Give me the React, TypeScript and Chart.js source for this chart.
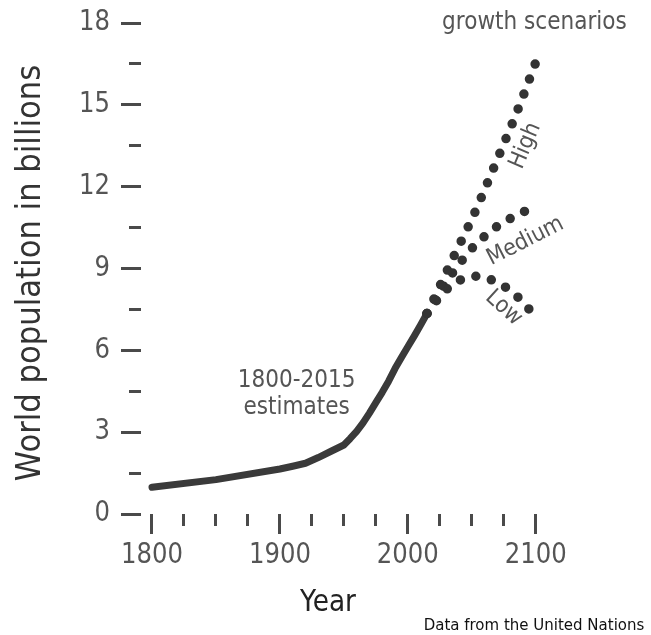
import React, { useEffect, useRef } from "react";
import { Chart, registerables } from "chart.js";

Chart.register(...registerables);

// ---- data ----
const estimateYears = [1800, 1850, 1900, 1910, 1920, 1930, 1940, 1950, 1955, 1960, 1965, 1970, 1975, 1980, 1985, 1990, 1995, 2000, 2005, 2010, 2015];
const estimateValues = [0.98, 1.26, 1.65, 1.75, 1.86, 2.07, 2.3, 2.53, 2.77, 3.03, 3.34, 3.7, 4.08, 4.46, 4.87, 5.33, 5.74, 6.13, 6.52, 6.93, 7.35];

const projectionYears = [2015, 2020, 2025, 2030, 2035, 2040, 2045, 2050, 2055, 2060, 2065, 2070, 2075, 2080, 2085, 2090, 2095, 2100];
const highValues = [7.35, 7.84, 8.35, 8.85, 9.35, 9.83, 10.32, 10.8, 11.33, 11.88, 12.45, 13.0, 13.57, 14.12, 14.7, 15.3, 15.93, 16.55];
const mediumValues = [7.35, 7.76, 8.14, 8.5, 8.84, 9.16, 9.45, 9.73, 9.97, 10.18, 10.38, 10.55, 10.7, 10.83, 10.96, 11.07, 11.16, 11.21];
const lowValues = [7.35, 7.68, 7.97, 8.22, 8.42, 8.56, 8.66, 8.71, 8.72, 8.67, 8.59, 8.48, 8.36, 8.2, 8.0, 7.76, 7.5, 7.25];

const xTickValues = [1800, 1825, 1850, 1875, 1900, 1925, 1950, 1975, 2000, 2025, 2050, 2075, 2100];
const xLabelValues = [1800, 1900, 2000, 2100];
const yTickValues = [0, 1.5, 3, 4.5, 6, 7.5, 9, 10.5, 12, 13.5, 15, 16.5, 18];
const yLabelValues = [0, 3, 6, 9, 12, 15, 18];

const yAxisTitle = "World population in billions";
const xAxisTitle = "Year";
const sourceNote = "Data from the United Nations";

// annotation layout (anchored in data coordinates)
const notes = [
  { text: "growth scenarios", year: 2099, value: 18.0, angle: 0, size: 24 },
  { text: "High", year: 2092, value: 13.5, angle: -67, size: 23 },
  { text: "Medium", year: 2092, value: 10.0, angle: -27, size: 23 },
  { text: "Low", year: 2075, value: 7.55, angle: 42, size: 23 },
  { text: "1800-2015", year: 1913, value: 4.9, angle: 0, size: 24 },
  { text: "estimates", year: 1913, value: 3.88, angle: 0, size: 24 },
];

const FONT = '"DejaVu Sans", sans-serif';
const INK = "#3a3a3a";
const TICK = "#4a4a4a";
const LABEL = "#555555";

function drawText(
  ctx: CanvasRenderingContext2D,
  text: string,
  x: number,
  y: number,
  o: { size: number; color: string; rot?: number; sx?: number; align?: CanvasTextAlign; baseline?: CanvasTextBaseline }
) {
  ctx.save();
  ctx.translate(x, y);
  ctx.rotate(((o.rot || 0) * Math.PI) / 180);
  ctx.scale(o.sx ?? 0.88, 1);
  ctx.font = `${o.size}px ${FONT}`;
  ctx.fillStyle = o.color;
  ctx.textAlign = o.align || "center";
  ctx.textBaseline = o.baseline || "middle";
  ctx.fillText(text, 0, 0);
  ctx.restore();
}

const textPlugin = {
  id: "texts",
  afterDraw(chart: any) {
    const ctx: CanvasRenderingContext2D = chart.ctx;
    const xs = chart.scales.x;
    const ys = chart.scales.y;
    const area = chart.chartArea;

    ys.ticks.forEach((t: any) => {
      if (yLabelValues.includes(t.value)) {
        drawText(ctx, String(t.value), area.left - 31, ys.getPixelForValue(t.value), {
          size: 28, color: LABEL, align: "right", sx: 0.87,
        });
      }
    });
    xs.ticks.forEach((t: any) => {
      if (xLabelValues.includes(t.value)) {
        drawText(ctx, String(t.value), xs.getPixelForValue(t.value), area.bottom + 42, {
          size: 28, color: LABEL, sx: 0.87,
        });
      }
    });

    drawText(ctx, yAxisTitle, 31, 273, { size: 33, color: "#333333", rot: -90, sx: 0.93 });
    drawText(ctx, xAxisTitle, 328, 603, { size: 30, color: "#222222", sx: 0.88 });
    drawText(ctx, sourceNote, 534, 626, { size: 15, color: "#111111", sx: 1 });

    notes.forEach((n) => {
      drawText(ctx, n.text, xs.getPixelForValue(n.year), ys.getPixelForValue(n.value), {
        size: n.size, color: LABEL, rot: n.angle, sx: 0.9,
      });
    });
  },
};

export default function App() {
  const ref = useRef<HTMLCanvasElement | null>(null);

  useEffect(() => {
    if (!ref.current) return;
    const toPoints = (xs: number[], ys: number[]) => xs.map((x, i) => ({ x, y: ys[i] }));
    const dotted = (values: number[]) => ({
      data: toPoints(projectionYears, values),
      borderColor: "#333333",
      borderWidth: 9.5,
      borderDash: [0, 16],
      borderCapStyle: "round" as const,
      borderJoinStyle: "round" as const,
      pointRadius: 0,
      tension: 0,
      fill: false,
    });

    const chart = new Chart(ref.current, {
      type: "line",
      data: {
        datasets: [
          dotted(highValues),
          dotted(mediumValues),
          dotted(lowValues),
          {
            data: toPoints(estimateYears, estimateValues),
            borderColor: INK,
            borderWidth: 7,
            borderCapStyle: "round",
            borderJoinStyle: "round",
            pointRadius: 0,
            tension: 0,
            fill: false,
          },
        ],
      },
      options: {
        animation: false,
        responsive: false,
        devicePixelRatio: 1,
        layout: { padding: { left: 121, right: 102.5, top: 23, bottom: 101 } },
        plugins: { legend: { display: false }, tooltip: { enabled: false } },
        scales: {
          x: {
            type: "linear",
            min: 1791.4,
            max: 2110,
            bounds: "data",
            afterBuildTicks: (scale: any) => {
              scale.ticks = xTickValues.map((v) => ({ value: v }));
            },
            ticks: { display: false },
            border: { display: false },
            grid: {
              display: true,
              drawOnChartArea: false,
              drawTicks: true,
              tickLength: 20,
              tickWidth: 3,
              tickColor: TICK,
              tickBorderDash: (c: any) => (c.tick && c.tick.value % 100 === 0 ? [] : [12, 100]),
            },
          },
          y: {
            type: "linear",
            min: 0,
            max: 18,
            bounds: "data",
            afterBuildTicks: (scale: any) => {
              scale.ticks = yTickValues.map((v) => ({ value: v }));
            },
            ticks: { display: false },
            border: { display: false },
            grid: {
              display: true,
              drawOnChartArea: false,
              drawTicks: true,
              tickLength: 20,
              tickWidth: 3,
              tickColor: TICK,
              tickBorderDash: (c: any) => (c.tick && c.tick.value % 3 === 0 ? [] : [0, 8, 12, 100]),
            },
          },
        },
      },
      plugins: [textPlugin],
    });
    return () => chart.destroy();
  }, []);

  return (
    <div style={{ position: "absolute", left: 0, top: 0, width: 651, height: 635, background: "#ffffff" }}>
      <canvas ref={ref} width={651} height={635} />
    </div>
  );
}
